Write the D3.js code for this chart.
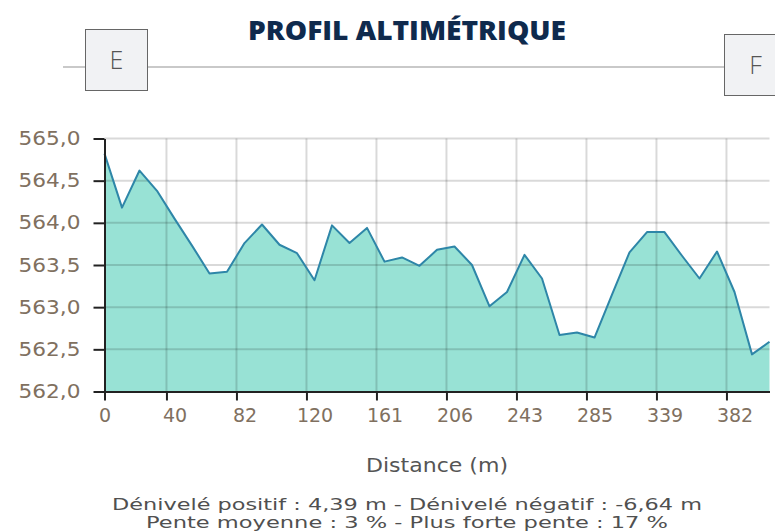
<!DOCTYPE html>
<html>
<head>
<meta charset="utf-8">
<script src="https://cdn.jsdelivr.net/npm/d3@7"></script>
<style>
  html, body { margin: 0; padding: 0; background: #fff; overflow: hidden; }
  svg { display: block; }
</style>
</head>
<body>
<svg id="chart" width="775" height="532"></svg>
<script>
// ---- Data ----
const titleText = "PROFIL ALTIMÉTRIQUE";
const startLabel = "E";
const endLabel = "F";
// Elevation (m) for each sample along the profile
const elevations = [
  564.82, 564.18, 564.62, 564.38, 564.05, 563.73, 563.40, 563.42, 563.76, 563.98,
  563.74, 563.64, 563.32, 563.97, 563.76, 563.94, 563.54, 563.59, 563.49, 563.68,
  563.72, 563.50, 563.01, 563.18, 563.62, 563.34, 562.67, 562.70, 562.64, 563.15,
  563.65, 563.89, 563.89, 563.61, 563.34, 563.66, 563.18, 562.44, 562.59
];
// Distance labels shown on the x axis (one every 4 samples)
const distanceLabels = ["0", "40", "82", "120", "161", "206", "243", "285", "339", "382"];
const labelStep = 4;
const yTicks = [562.0, 562.5, 563.0, 563.5, 564.0, 564.5, 565.0];
const yDomain = [562, 565];
const xTitle = "Distance (m)";
const footerLines = [
  "Dénivelé positif : 4,39 m - Dénivelé négatif : -6,64 m",
  "Pente moyenne : 3 % - Plus forte pente : 17 %"
];

// ---- Layout ----
const svg = d3.select("#chart");
const plot = { left: 104.5, right: 769.5, top: 138.5, bottom: 391.5 };
const tickShift = 0.46; // tick marks sit slightly before the label sample

const samples = elevations.map((e, i) => ({ i, e }));
const x = d3.scaleLinear().domain([0, elevations.length - 1]).range([plot.left, plot.right]);
const y = d3.scaleLinear().domain(yDomain).range([plot.bottom, plot.top]);

const labelIdx = distanceLabels.map((d, k) => k * labelStep);
const tickIdx = labelIdx.map(v => v === 0 ? 0 : v - tickShift);

// ---- Header ----
svg.append("line")
  .attr("x1", 63).attr("x2", 726).attr("y1", 67).attr("y2", 67)
  .attr("stroke", "#c9c9c9").attr("stroke-width", 2);

svg.append("text")
  .attr("x", 407).attr("y", 40)
  .attr("text-anchor", "middle")
  .attr("font-family", "'Open Sans', sans-serif")
  .attr("font-weight", 800)
  .attr("font-size", 27)
  .attr("fill", "#0f2a4d")
  .attr("textLength", 318)
  .attr("lengthAdjust", "spacingAndGlyphs")
  .text(titleText);

function markerBox(bx, by, w, h, label) {
  svg.append("rect")
    .attr("x", bx + 0.5).attr("y", by + 0.5).attr("width", w).attr("height", h)
    .attr("fill", "#f1f2f4").attr("stroke", "#666").attr("stroke-width", 1);
  svg.append("text")
    .attr("x", bx + w / 2 + 0.5).attr("y", by + h / 2 + 9)
    .attr("text-anchor", "middle")
    .attr("font-family", "'Open Sans', sans-serif")
    .attr("font-weight", 300)
    .attr("font-size", 25)
    .attr("fill", "#555")
    .text(label);
}
markerBox(85, 29, 62, 61, startLabel);
markerBox(724, 34, 62, 61, endLabel);

// ---- Plot ----
const g = svg.append("g");

g.append("path")
  .datum(samples)
  .attr("fill", "#98e2d5")
  .attr("d", d3.area().x(d => x(d.i)).y0(plot.bottom).y1(d => y(d.e)));

// grid (drawn over the fill)
g.append("g").selectAll("line").data(yTicks.filter(v => v !== yDomain[0])).join("line")
  .attr("x1", plot.left).attr("x2", plot.right)
  .attr("y1", d => y(d)).attr("y2", d => y(d))
  .attr("stroke", "rgba(0,0,0,0.15)").attr("stroke-width", 2);
g.append("g").selectAll("line").data(tickIdx.filter(v => v > 0)).join("line")
  .attr("x1", d => x(d)).attr("x2", d => x(d))
  .attr("y1", plot.top).attr("y2", plot.bottom)
  .attr("stroke", "rgba(0,0,0,0.15)").attr("stroke-width", 2);

g.append("path")
  .datum(samples)
  .attr("fill", "none")
  .attr("stroke", "#2e86a8")
  .attr("stroke-width", 2)
  .attr("stroke-linejoin", "round")
  .attr("d", d3.line().x(d => x(d.i)).y(d => y(d.e)));

// Y axis
const yAxis = d3.axisLeft(y).tickValues(yTicks).tickSize(11).tickSizeOuter(0).tickPadding(13)
  .tickFormat(d => d3.format(".1f")(d).replace(".", ","));
const yg = svg.append("g").attr("transform", `translate(${plot.left},0)`).call(yAxis);
yg.select(".domain").attr("stroke", "#222").attr("stroke-width", 2);
yg.selectAll(".tick line").attr("stroke", "#222").attr("stroke-width", 2);
yg.selectAll(".tick text")
  .attr("font-family", "'DejaVu Sans', Verdana, sans-serif")
  .attr("font-size", 19)
  .attr("fill", "#80705f")
  .attr("textLength", 62)
  .attr("lengthAdjust", "spacingAndGlyphs");

// X axis: tick marks
const xTickAxis = d3.axisBottom(x).tickValues(tickIdx).tickSize(9).tickSizeOuter(0).tickFormat("");
const xg = svg.append("g").attr("transform", `translate(0,${plot.bottom})`).call(xTickAxis);
xg.select(".domain").attr("stroke", "#222").attr("stroke-width", 2);
xg.selectAll(".tick line").attr("stroke", "#222").attr("stroke-width", 2);

// X axis: labels
const xLabelAxis = d3.axisBottom(x).tickValues(labelIdx).tickSize(0).tickPadding(17)
  .tickFormat((d, k) => distanceLabels[k]);
const xl = svg.append("g").attr("transform", `translate(0,${plot.bottom})`).call(xLabelAxis);
xl.select(".domain").remove();
xl.selectAll(".tick text")
  .attr("font-family", "'DejaVu Sans', Verdana, sans-serif")
  .attr("font-size", 19)
  .attr("fill", "#80705f");

// Axis title
svg.append("text")
  .attr("x", (plot.left + plot.right) / 2).attr("y", 472)
  .attr("text-anchor", "middle")
  .attr("font-family", "'DejaVu Sans', Verdana, sans-serif")
  .attr("font-size", 19)
  .attr("fill", "#555")
  .attr("textLength", 142)
  .attr("lengthAdjust", "spacingAndGlyphs")
  .text(xTitle);

// Footer
const footerWidths = [590, 522];
footerLines.forEach((t, k) => {
  svg.append("text")
    .attr("x", 407).attr("y", 510 + k * 18)
    .attr("text-anchor", "middle")
    .attr("font-family", "'DejaVu Sans', Verdana, sans-serif")
    .attr("font-size", 16.5)
    .attr("fill", "#505050")
    .attr("textLength", footerWidths[k])
    .attr("lengthAdjust", "spacingAndGlyphs")
    .text(t);
});
</script>
</body>
</html>
